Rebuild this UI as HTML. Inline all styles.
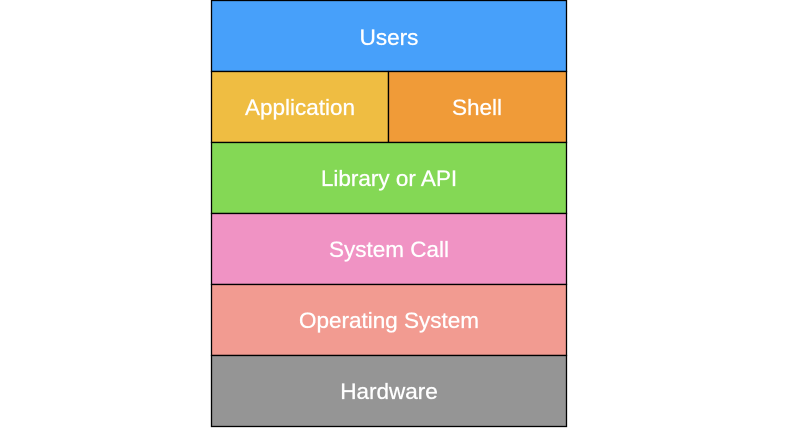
<!DOCTYPE html>
<html><head><style>html,body{margin:0;padding:0;background:#fff}</style></head><body>
<svg width="788" height="428" xmlns="http://www.w3.org/2000/svg" style="display:block">
<g stroke="#000" stroke-width="1.3">
<rect x="211.5" y="0.5" width="355" height="71" fill="#47a0fa"/>
<rect x="211.5" y="71.5" width="177" height="71" fill="#efbd42"/>
<rect x="388.5" y="71.5" width="178" height="71" fill="#f09b38"/>
<rect x="211.5" y="142.5" width="355" height="71" fill="#84d855"/>
<rect x="211.5" y="213.5" width="355" height="71" fill="#f093c4"/>
<rect x="211.5" y="284.5" width="355" height="71" fill="#f29b91"/>
<rect x="211.5" y="355.5" width="355" height="71" fill="#959595"/>
</g>
<g fill="#fff" font-family="Liberation Sans, sans-serif" font-size="22.5" text-anchor="middle" stroke="#fff" stroke-width="0.3">
<text x="389" y="45">Users</text>
<text x="300" y="115">Application</text>
<text x="477" y="115">Shell</text>
<text x="389" y="186">Library or API</text>
<text x="389" y="257">System Call</text>
<text x="389" y="328">Operating System</text>
<text x="389" y="399">Hardware</text>
</g>
</svg>
</body></html>
